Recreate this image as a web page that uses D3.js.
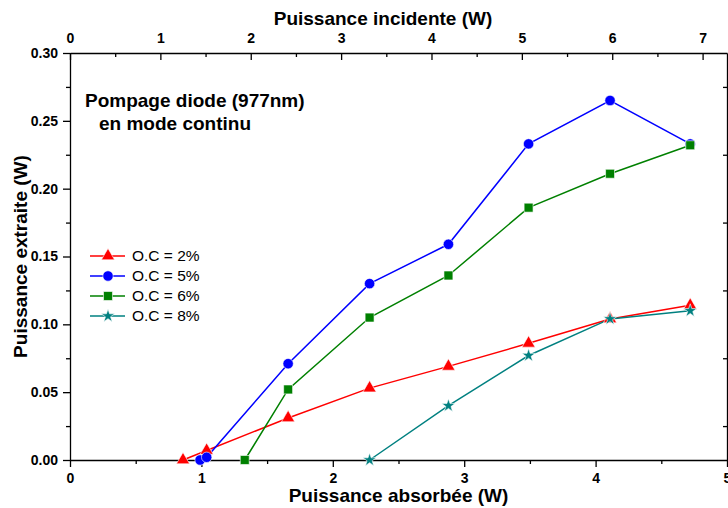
<!DOCTYPE html>
<html>
<head>
<meta charset="utf-8">
<script src="https://cdn.jsdelivr.net/npm/d3@7"></script>
<style>
  body { margin: 0; background: #fff; }
  svg { display: block; font-family: "Liberation Sans", Arial, sans-serif; }
  .tick text { font-weight: bold; font-size: 14px; fill: #000; }
  .tick line, .domain { stroke: #000; stroke-width: 1.3; }
  .label { font-weight: bold; font-size: 19px; }
</style>
</head>
<body>
<svg width="728" height="508"></svg>
<script>
// series names and colours
var seriesNames = ['O.C = 2%', 'O.C = 5%', 'O.C = 6%', 'O.C = 8%']
var seriesColors = ['#ff0000', '#0000ff', '#008000', '#008080']

// absorbed power (W) for each series
var xRed = [0.86, 1.04, 1.66, 2.28, 2.88, 3.49, 4.11, 4.72]
var xBlue = [0.99, 1.04, 1.66, 2.28, 2.88, 3.49, 4.11, 4.72]
var xGreen = [1.33, 1.66, 2.28, 2.88, 3.49, 4.11, 4.72]
var xTeal = [2.28, 2.88, 3.49, 4.11, 4.72]

// extracted power (W)
var yRed = [0.000, 0.007, 0.031, 0.053, 0.069, 0.086, 0.104, 0.114]
var yBlue = [0.000, 0.002, 0.071, 0.130, 0.159, 0.233, 0.265, 0.233]
var yGreen = [0.000, 0.052, 0.105, 0.136, 0.186, 0.211, 0.232]
var yTeal = [0.000, 0.040, 0.077, 0.104, 0.110]

var bottomTicks = [0, 1, 2, 3, 4, 5]
var topTicks = [0, 1, 2, 3, 4, 5, 6, 7]
var leftTicks = [0, 0.05, 0.10, 0.15, 0.20, 0.25, 0.30]

var svg = d3.select('svg')
var margin = { top: 53, right: 1, bottom: 48, left: 70 }
var width = 728 - margin.left - margin.right
var height = 508 - margin.top - margin.bottom

var chart = svg.append('g')
  .attr('transform', `translate(${margin.left}, ${margin.top})`)

var xScale = d3.scaleLinear().domain([0, 5]).range([0, width])
var xTop = d3.scaleLinear().domain([0, 7.27]).range([0, width])
var yScale = d3.scaleLinear().domain([0, 0.30]).range([height, 0])

// minor ticks first (no labels)
chart.append('g')
  .attr('transform', `translate(0, ${height})`)
  .call(d3.axisBottom(xScale).tickValues(d3.range(0.5, 5, 1)).tickSize(4).tickFormat(''))
  .call(g => g.select('.domain').remove())
chart.append('g')
  .call(d3.axisLeft(yScale).tickValues(d3.range(0.025, 0.3, 0.05)).tickSize(4).tickFormat(''))
  .call(g => g.select('.domain').remove())
chart.append('g')
  .call(d3.axisBottom(xTop).tickValues(d3.range(0.5, 7.3, 1)).tickSize(4).tickFormat(''))
  .call(g => g.select('.domain').remove())
chart.append('g')
  .attr('transform', `translate(${width}, 0)`)
  .call(d3.axisLeft(yScale).tickValues(d3.range(0.025, 0.3, 0.05)).tickSize(4).tickFormat(''))
  .call(g => g.select('.domain').remove())

// main axes
chart.append('g')
  .attr('transform', `translate(0, ${height})`)
  .call(d3.axisBottom(xScale).tickValues(bottomTicks).tickSize(7).tickSizeOuter(0).tickPadding(6).tickFormat(d3.format('d')))

chart.append('g')
  .call(d3.axisLeft(yScale).tickValues(leftTicks).tickSize(7).tickSizeOuter(0).tickPadding(5).tickFormat(d3.format('.2f')))

var topAxis = chart.append('g')
  .call(d3.axisTop(xTop).tickValues(topTicks).tickSize(-7).tickSizeOuter(0).tickFormat(d3.format('d')))
topAxis.selectAll('.tick text').attr('y', -10)

chart.append('g')
  .attr('transform', `translate(${width}, 0)`)
  .call(d3.axisLeft(yScale).tickValues(leftTicks.slice(1, 6)).tickSize(-7).tickSizeOuter(0).tickFormat(''))

// series
var series = [
  { xs: xRed, ys: yRed, sym: d3.symbolTriangle, size: 75 },
  { xs: xBlue, ys: yBlue, sym: d3.symbolCircle, size: 85 },
  { xs: xGreen, ys: yGreen, sym: d3.symbolSquare, size: 80 },
  { xs: xTeal, ys: yTeal, sym: d3.symbolStar, size: 55 }
]

var line = d3.line()
  .x(d => xScale(d[0]))
  .y(d => yScale(d[1]))

series.forEach(function (s, i) {
  var pts = s.xs.map((x, j) => [x, s.ys[j]])
  chart.append('path')
    .datum(pts)
    .attr('fill', 'none')
    .attr('stroke', seriesColors[i])
    .attr('stroke-width', 1.5)
    .attr('d', line)
})

series.forEach(function (s, i) {
  var pts = s.xs.map((x, j) => [x, s.ys[j]])
  chart.selectAll(null)
    .data(pts)
    .enter()
    .append('path')
    .attr('transform', d => `translate(${xScale(d[0])}, ${yScale(d[1])})`)
    .attr('d', d3.symbol().type(s.sym).size(s.size))
    .attr('fill', seriesColors[i])
    .attr('stroke', '#fff')
    .attr('stroke-width', 0.6)
})

// legend
var legend = svg.append('g')
  .attr('transform', 'translate(90, 256)')

series.forEach(function (s, i) {
  var row = legend.append('g').attr('transform', `translate(0, ${i * 20})`)
  row.append('line')
    .attr('x1', 0).attr('x2', 35)
    .attr('stroke', seriesColors[i])
    .attr('stroke-width', 1.5)
  row.append('path')
    .attr('transform', 'translate(18, 0)')
    .attr('d', d3.symbol().type(s.sym).size(s.size))
    .attr('fill', seriesColors[i])
    .attr('stroke', '#fff')
    .attr('stroke-width', 0.6)
  row.append('text')
    .attr('x', 42)
    .attr('y', 0)
    .attr('dy', '0.35em')
    .style('font-size', '15.5px')
    .text(seriesNames[i])
})

// annotation
svg.append('text')
  .attr('class', 'label')
  .attr('x', 85)
  .attr('y', 107)
  .text('Pompage diode (977nm)')
svg.append('text')
  .attr('class', 'label')
  .attr('x', 99)
  .attr('y', 130)
  .text('en mode continu')

// axis titles
svg.append('text')
  .attr('class', 'label')
  .attr('x', margin.left + width / 2)
  .attr('y', 502)
  .attr('text-anchor', 'middle')
  .text('Puissance absorbée (W)')

svg.append('text')
  .attr('class', 'label')
  .attr('x', 383)
  .attr('y', 25)
  .attr('text-anchor', 'middle')
  .text('Puissance incidente (W)')

svg.append('text')
  .attr('class', 'label')
  .attr('transform', `translate(27, ${margin.top + height / 2}) rotate(-90)`)
  .attr('text-anchor', 'middle')
  .text('Puissance extraite (W)')
</script>
</body>
</html>
